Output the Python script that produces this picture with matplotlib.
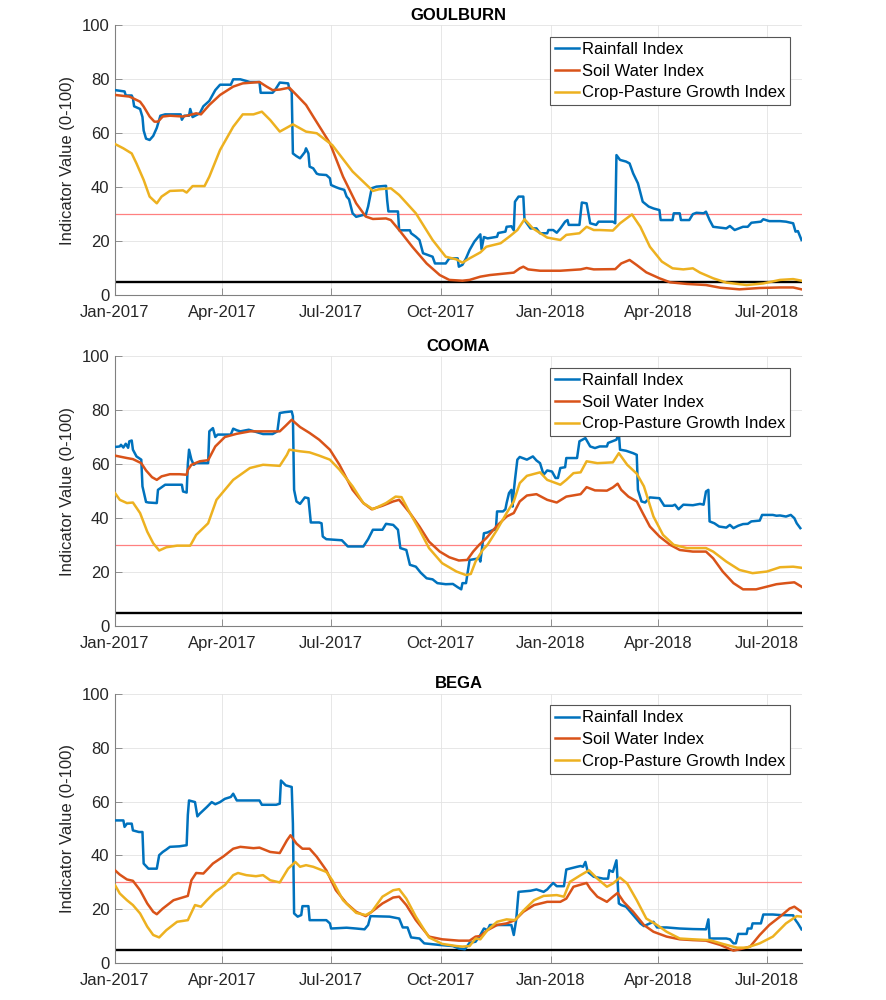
import numpy as np
import pandas as pd
import matplotlib
matplotlib.use("Agg")
import matplotlib.pyplot as plt
import matplotlib.dates as mdates

plt.rcParams['font.family'] = ['Liberation Sans', 'DejaVu Sans']

# ---------------- data (day offsets since 2017-01-01, index values) ----------------
stations = ["GOULBURN", "COOMA", "BEGA"]
series_names = ["Rainfall Index", "Soil Water Index", "Crop-Pasture Growth Index"]

goulburn_rain_days = [0, 8, 9, 14, 15, 16, 21, 23, 24, 26, 29, 32, 33, 35, 38, 42, 55, 56, 58, 62, 63, 65, 71, 74, 79, 84, 88, 97, 99, 105, 113, 121, 122, 132, 134, 138, 145, 146, 148, 149, 152, 155, 159, 160, 162, 163, 166, 169, 171, 177, 180, 181, 185, 188, 192, 194, 196, 199, 202, 208, 210, 212, 215, 219, 227, 228, 229, 237, 238, 247, 248, 252, 255, 258, 266, 268, 277, 280, 287, 288, 291, 294, 297, 301, 306, 307, 309, 312, 320, 321, 327, 328, 332, 334, 335, 338, 342, 343, 348, 353, 356, 362, 363, 367, 370, 373, 377, 379, 380, 389, 391, 395, 397, 398, 403, 405, 417, 419, 420, 423, 428, 431, 434, 438, 442, 447, 451, 456, 457, 467, 468, 473, 474, 481, 484, 487, 493, 495, 498, 501, 512, 515, 519, 526, 530, 533, 541, 543, 548, 557, 562, 568, 570, 572, 575]
goulburn_rain = [76, 75.5, 74, 74, 73, 70, 69, 66, 61, 58, 57.5, 59, 60, 62, 66.5, 67, 67, 65, 66.5, 66.5, 69, 66, 67.4, 70, 72, 76, 78, 78, 80, 80, 79, 79, 75, 75, 76, 78.8, 78.5, 76.5, 75.5, 52.5, 51.5, 50.7, 53, 54.4, 52.5, 47.6, 47, 45, 44.7, 44.5, 43.3, 40.8, 40, 39.5, 39, 36.5, 35.5, 30.3, 29, 29.7, 29.7, 32.8, 39.6, 40.2, 40.5, 35, 31, 31, 24, 24, 22.9, 21.6, 20.4, 15.5, 14.2, 11.7, 11.7, 13.6, 13.6, 10.5, 11.2, 13.6, 16.7, 19.8, 22.5, 17, 21.5, 21, 21.6, 23, 23.5, 25.3, 25.5, 24, 34.6, 36.5, 36.5, 27.8, 24.7, 24.7, 22.9, 22.9, 24.1, 24.1, 23.1, 24.7, 27.2, 27.8, 26, 26, 34.3, 34, 29, 26.6, 26, 27.2, 27.2, 26.6, 51.9, 50.1, 49.5, 48.8, 45.1, 41.4, 34.6, 32.8, 32.1, 31.5, 27.8, 27.8, 30.3, 30.3, 27.8, 27.8, 30, 30.5, 30.3, 30.9, 27.8, 25.3, 24.7, 25.6, 24.1, 25.3, 25.3, 26.8, 27.2, 28.1, 27.4, 27.4, 27.2, 26.6, 23.5, 23.7, 20.4]

goulburn_soil_days = [0, 12, 15, 21, 24, 29, 33, 36, 40, 46, 57, 63, 68, 72, 79, 88, 99, 107, 121, 127, 132, 138, 146, 152, 160, 166, 180, 191, 202, 210, 216, 227, 231, 238, 249, 261, 272, 280, 291, 297, 306, 314, 334, 339, 342, 346, 356, 373, 390, 395, 401, 419, 424, 431, 437, 445, 456, 465, 479, 495, 507, 523, 540, 557, 568, 575]
goulburn_soil = [74.2, 73.6, 73, 71.7, 69.9, 66.2, 64.3, 64.3, 66.2, 66.5, 66.2, 66.8, 67.4, 67, 70.5, 74.2, 77.3, 78.5, 79, 77.3, 76, 76.2, 76.9, 74.2, 70.5, 66.2, 56.3, 43.9, 34, 29.1, 28.2, 28.4, 27.8, 24.1, 17.9, 11.7, 7.4, 5.6, 5.3, 5.6, 6.8, 7.4, 8.3, 9.9, 10.5, 9.5, 9, 9, 9.5, 10, 9.5, 9.6, 11.7, 13, 11.1, 8.4, 6.2, 4.7, 4.1, 3.7, 2.7, 2.1, 2.6, 2.8, 2.8, 2.1]

goulburn_growth_days = [0, 7, 14, 18, 24, 29, 35, 39, 46, 57, 60, 65, 75, 79, 88, 99, 107, 116, 123, 130, 138, 149, 160, 169, 182, 199, 216, 221, 231, 238, 252, 266, 277, 286, 291, 297, 306, 311, 323, 331, 337, 343, 350, 362, 373, 378, 389, 395, 401, 406, 417, 423, 433, 440, 448, 458, 467, 476, 484, 490, 501, 512, 529, 543, 557, 568, 575]
goulburn_growth = [56, 54.4, 52.5, 48.8, 42.7, 36.5, 34, 36.5, 38.6, 38.8, 38, 40.4, 40.4, 43.9, 53.8, 62.4, 67, 67, 68, 64.9, 60.6, 63.3, 60.6, 60, 55.6, 45.8, 38.6, 39.2, 39.6, 37.1, 30.3, 20.4, 14.2, 13.2, 12, 13.6, 15.8, 17.9, 19.2, 21.9, 24.1, 28.1, 24.7, 21.3, 20.4, 22.3, 22.9, 25.3, 24.1, 24.1, 23.9, 26.6, 29.9, 25.3, 17.9, 12.4, 9.9, 9.5, 9.9, 8.3, 6.2, 4.6, 3.7, 4.3, 5.6, 5.9, 5.3]

cooma_rain_days = [0, 4, 5, 7, 9, 11, 12, 14, 15, 18, 22, 23, 26, 28, 35, 36, 42, 56, 57, 60, 61, 62, 64, 66, 68, 78, 79, 82, 84, 86, 97, 99, 102, 105, 112, 124, 132, 136, 138, 142, 148, 149, 150, 152, 155, 159, 162, 163, 164, 171, 173, 174, 177, 183, 190, 195, 208, 212, 216, 224, 227, 233, 237, 239, 244, 247, 252, 256, 261, 266, 270, 277, 283, 287, 290, 291, 294, 297, 305, 306, 309, 312, 317, 319, 320, 325, 327, 328, 330, 332, 333, 334, 335, 337, 339, 345, 350, 353, 356, 359, 362, 366, 369, 371, 373, 377, 378, 387, 389, 394, 398, 402, 406, 412, 413, 420, 422, 423, 428, 434, 437, 438, 441, 444, 448, 456, 460, 467, 469, 472, 476, 484, 490, 493, 495, 497, 498, 502, 506, 512, 515, 518, 522, 526, 530, 533, 540, 542, 551, 554, 557, 562, 566, 569, 571, 574]
cooma_rain = [66.4, 66.6, 67.2, 66.2, 67.6, 66.1, 68.5, 68.8, 65.4, 62.9, 61.7, 51.8, 46, 45.8, 45.6, 50.5, 52.4, 52.4, 49.9, 49.5, 60, 65.4, 61.7, 59.8, 60.4, 60.4, 72.2, 73.4, 70.1, 71, 71, 73.2, 72.6, 72.2, 72.8, 71.2, 71.2, 72.2, 79, 79.3, 79.6, 77.8, 50.5, 46.2, 45.3, 47.7, 47.4, 43.1, 38.4, 38.4, 38.1, 33.2, 32.2, 32, 31.8, 29.5, 29.5, 32.2, 35.7, 35.7, 37.9, 37.5, 35.7, 28.9, 28.2, 22.7, 22, 19.8, 17.7, 17.3, 15.9, 15.5, 15.6, 14.4, 13.6, 15.9, 15.9, 24.5, 25.1, 23.9, 34.4, 34.7, 35.7, 35.7, 42.5, 42.5, 43.3, 45.6, 49.3, 50.5, 44.3, 50, 54.2, 61.7, 62.7, 61.7, 62.9, 61.4, 60.4, 56.1, 57.7, 57.3, 54.9, 54.9, 58.6, 58.9, 62.3, 62.3, 68.5, 69.7, 66.6, 66, 66.6, 66.6, 67.9, 69.1, 71.6, 65.4, 65, 64.1, 63.5, 50.5, 46.2, 45.8, 47.7, 47.4, 44.6, 44.6, 45, 43.3, 45, 44.8, 45.3, 45, 49.9, 50.5, 38.8, 38.1, 36.9, 36.5, 37.5, 36.3, 37.2, 37.8, 37.9, 38.8, 39.1, 41.2, 41.2, 40.9, 41, 40.6, 41.2, 40, 38.1, 36.3]

cooma_soil_days = [0, 10, 15, 22, 26, 31, 35, 39, 46, 54, 60, 61, 64, 71, 78, 84, 92, 102, 113, 124, 138, 143, 148, 155, 163, 171, 180, 188, 199, 208, 215, 224, 233, 238, 247, 255, 263, 272, 280, 288, 295, 300, 305, 311, 320, 328, 334, 339, 345, 353, 362, 370, 378, 390, 395, 402, 412, 417, 421, 424, 430, 437, 442, 448, 456, 465, 473, 484, 495, 501, 509, 518, 526, 537, 546, 554, 562, 569, 575]
cooma_soil = [63.2, 62.3, 61.9, 60.4, 57.7, 55.2, 54.2, 55.5, 56.3, 56.3, 56.1, 57.9, 59.8, 61.1, 61.5, 66.6, 70.1, 71.3, 72.2, 72.2, 72.2, 74.3, 76.5, 73.8, 71.6, 69.1, 65.4, 59.8, 50.5, 45.6, 43.3, 44.6, 46.2, 46.8, 41.9, 36.9, 31.3, 27.6, 25.5, 24.3, 24.5, 27.6, 30.1, 32.6, 37.2, 40.6, 41.9, 46.2, 48.4, 48.9, 46.8, 45.8, 48, 48.9, 51.5, 50.3, 50.2, 51.4, 52.8, 50.5, 48, 46.2, 41.9, 36.9, 33.2, 30.1, 28.2, 27.6, 27.6, 25.1, 20.2, 15.9, 13.6, 13.6, 14.6, 15.5, 15.9, 16.2, 14.6]

cooma_growth_days = [0, 4, 10, 15, 21, 27, 32, 37, 43, 52, 63, 68, 78, 85, 99, 113, 124, 138, 144, 146, 155, 163, 171, 180, 188, 199, 208, 216, 227, 235, 240, 247, 255, 263, 274, 286, 294, 298, 302, 308, 312, 320, 328, 334, 339, 345, 356, 362, 373, 378, 384, 390, 395, 404, 417, 422, 429, 437, 443, 451, 459, 468, 479, 495, 501, 512, 523, 534, 546, 557, 568, 575]
cooma_growth = [49.3, 46.8, 45.6, 45.8, 41.9, 35, 30.7, 28, 29.2, 29.8, 29.8, 33.8, 38.1, 46.8, 54.2, 58.6, 59.8, 59.4, 63.5, 65.4, 64.8, 64.4, 63.2, 61.7, 58, 51.8, 45.6, 43.3, 45.6, 48, 47.8, 41.9, 35.7, 28.9, 23.3, 20.2, 18.9, 19.3, 23.9, 28.2, 30.1, 35.7, 41.9, 46.2, 53, 55.7, 57, 54.2, 52.4, 54.2, 56.7, 57, 61.1, 60.4, 60.7, 64.1, 59.8, 56.5, 51.8, 40.6, 33.8, 30.1, 28.9, 28.9, 27.6, 23.9, 20.8, 19.6, 20.2, 21.8, 22, 21.6]

bega_rain_days = [0, 7, 8, 10, 14, 15, 20, 23, 24, 28, 35, 37, 40, 43, 46, 54, 60, 61, 62, 67, 69, 71, 77, 81, 84, 88, 92, 97, 99, 102, 110, 121, 123, 135, 138, 139, 143, 148, 149, 150, 153, 156, 157, 162, 163, 177, 180, 181, 194, 202, 209, 212, 214, 230, 238, 241, 245, 248, 255, 259, 272, 283, 288, 293, 297, 302, 306, 309, 312, 314, 323, 332, 334, 336, 338, 348, 353, 359, 362, 364, 367, 370, 376, 378, 387, 390, 392, 394, 396, 401, 409, 413, 414, 417, 420, 422, 424, 428, 434, 440, 443, 451, 454, 462, 473, 484, 495, 497, 498, 506, 512, 515, 518, 520, 522, 529, 530, 533, 534, 541, 543, 551, 557, 568, 570, 572, 575]
bega_rain = [53, 53, 50.6, 51.8, 51.8, 49.3, 48.7, 48.7, 37, 35.1, 35.1, 40.1, 41.3, 42.2, 43.2, 43.4, 43.8, 55, 60.4, 59.8, 54.5, 55.5, 58, 59.8, 59, 59.8, 61, 61.7, 62.9, 60.4, 60.4, 60.4, 58.8, 58.8, 59.2, 67.8, 66, 65.4, 51.8, 18.5, 17.3, 17.9, 21.2, 21.2, 16, 16, 14.8, 12.9, 13.2, 12.9, 12.6, 14.2, 17.5, 17.3, 16.6, 13.3, 13.3, 9.6, 9.2, 7.4, 6.8, 6.4, 5.5, 5.2, 7.6, 8, 10.5, 12.9, 12.3, 14.2, 14.2, 14.2, 10.5, 16, 26.5, 26.9, 27.4, 26.5, 27.4, 28.4, 29.8, 28.6, 28.6, 34.8, 35.8, 36.1, 35.8, 37.6, 33.9, 32.1, 31.4, 31.4, 34.5, 33.9, 38.2, 22.2, 21.6, 21, 17.9, 14.8, 13.8, 15.4, 13.3, 13.3, 12.9, 12.7, 12.6, 16.3, 9.2, 9.2, 9.2, 8.9, 7.4, 7.4, 10.9, 10.9, 12.9, 12.9, 14.8, 14.8, 18.1, 18.1, 17.9, 17.8, 16, 14.8, 12.6]

bega_soil_days = [0, 4, 10, 15, 21, 27, 32, 35, 40, 49, 61, 64, 68, 74, 82, 91, 99, 105, 116, 121, 130, 138, 144, 147, 152, 157, 163, 169, 177, 185, 194, 202, 210, 215, 224, 233, 238, 244, 252, 263, 274, 288, 297, 302, 306, 312, 320, 328, 335, 342, 351, 362, 373, 378, 384, 395, 398, 404, 412, 417, 421, 426, 434, 443, 451, 462, 473, 484, 495, 507, 518, 526, 532, 540, 548, 557, 565, 569, 575]
bega_soil = [34.5, 32.9, 31.1, 30.6, 27.1, 22.2, 19.1, 18.2, 20.3, 23.4, 25, 30.8, 33.5, 33.3, 37, 39.7, 42.5, 43.2, 42.7, 42.9, 41.3, 40.9, 45.6, 47.5, 44.4, 42.5, 42.5, 39.5, 34.5, 27.1, 22.2, 19.1, 17.5, 19.1, 22.2, 24.4, 24.7, 21.6, 16, 9.9, 8.9, 8.4, 8.4, 9.9, 10.1, 12.3, 14.2, 14.8, 16, 19.1, 21.6, 22.8, 22.8, 24, 28.4, 29.8, 27.7, 24.7, 22.8, 24.7, 26.1, 22.8, 19.1, 14.2, 11.7, 9.9, 8.9, 8.6, 8.4, 6.8, 4.7, 5.5, 6.2, 10.5, 14.2, 17.3, 20.3, 21, 19.1]

bega_growth_days = [0, 4, 10, 15, 21, 27, 32, 37, 43, 52, 61, 67, 72, 77, 84, 92, 99, 103, 110, 118, 124, 130, 138, 145, 151, 155, 160, 166, 177, 182, 191, 202, 210, 215, 224, 233, 238, 244, 252, 263, 274, 286, 291, 297, 302, 306, 312, 320, 328, 335, 342, 351, 359, 370, 376, 381, 390, 397, 404, 412, 417, 423, 429, 437, 445, 454, 462, 473, 484, 498, 509, 521, 529, 540, 551, 562, 571, 575]
bega_growth = [29, 25.9, 23.4, 21.6, 18.5, 13.6, 10.5, 9.6, 12.3, 15.4, 16, 21.6, 21, 23.4, 26.5, 29, 32.7, 33.5, 32.7, 32.3, 32.7, 30.8, 30, 35.1, 37.6, 35.8, 36.4, 35.8, 33.9, 30.8, 23.4, 18.7, 17.9, 19.1, 24.7, 27.1, 27.5, 24, 17.3, 9.6, 7.2, 6.4, 6.2, 6.4, 9.2, 8.9, 12.3, 15.4, 16.3, 16, 19.5, 23.4, 25, 25.3, 24.7, 30.2, 32.7, 34.5, 31.4, 28.4, 29.6, 31.8, 29.6, 23.4, 16.6, 14.2, 11.7, 9.2, 8.9, 8.6, 7.2, 5.8, 5.8, 7.4, 9.9, 14.8, 17.5, 17.3]

threshold_low = 5
threshold_mid = 30

panels = [
    ("GOULBURN", [(goulburn_rain_days, goulburn_rain), (goulburn_soil_days, goulburn_soil), (goulburn_growth_days, goulburn_growth)]),
    ("COOMA", [(cooma_rain_days, cooma_rain), (cooma_soil_days, cooma_soil), (cooma_growth_days, cooma_growth)]),
    ("BEGA", [(bega_rain_days, bega_rain), (bega_soil_days, bega_soil), (bega_growth_days, bega_growth)]),
]

colors = ["#0072BD", "#D95319", "#EDB120"]
start = pd.Timestamp("2017-01-01")
xmin = pd.Timestamp("2017-01-01")
xmax = pd.Timestamp("2018-07-30 10:00")
axis_col = "#262626"

fig = plt.figure(figsize=(8.86, 10), dpi=100)
bottoms = [0.705, 0.374, 0.0367]
for (title, series), b in zip(panels, bottoms):
    ax = fig.add_axes([0.1298, b, 0.7754, 0.2696])
    ax.axhline(threshold_mid, color="#ff8080", lw=0.9, zorder=1)
    ax.axhline(threshold_low, color="black", lw=1.7, zorder=1)
    for (d, v), c, name in zip(series, colors, series_names):
        x = start + pd.to_timedelta(d, unit="D")
        ax.plot(x, v, color=c, lw=1.8, label=name, zorder=3)
    ax.set_xlim(xmin, xmax)
    ax.set_ylim(0, 100)
    ax.set_yticks(range(0, 101, 20))
    ax.xaxis.set_major_locator(mdates.MonthLocator(bymonth=[1, 4, 7, 10]))
    ax.xaxis.set_major_formatter(mdates.DateFormatter("%b-%Y"))
    ax.grid(True, color="#e3e3e3", lw=0.6, zorder=0)
    ax.set_axisbelow(True)
    for s in ["top", "right"]:
        ax.spines[s].set_visible(False)
    for s in ["left", "bottom"]:
        ax.spines[s].set_color("#808080")
        ax.spines[s].set_linewidth(0.8)
    ax.tick_params(direction="in", length=5, width=0.6, color="#808080",
                   labelsize=12, labelcolor=axis_col)
    ax.tick_params(axis="x", pad=7)
    ax.tick_params(axis="y", pad=4)
    ax.set_ylabel("Indicator Value (0-100)", fontsize=12, color=axis_col, labelpad=5)
    ax.set_title(title, fontsize=12, fontweight="bold", color="black", pad=4)
    leg = ax.legend(loc="upper right", fontsize=12, frameon=True, fancybox=False,
                    framealpha=1, edgecolor="#555555", handlelength=1.45,
                    handletextpad=0.15, borderpad=0.3, labelspacing=0.4,
                    borderaxespad=0.7)
    leg.get_frame().set_linewidth(0.8)

fig.savefig("out.png", dpi=100)
